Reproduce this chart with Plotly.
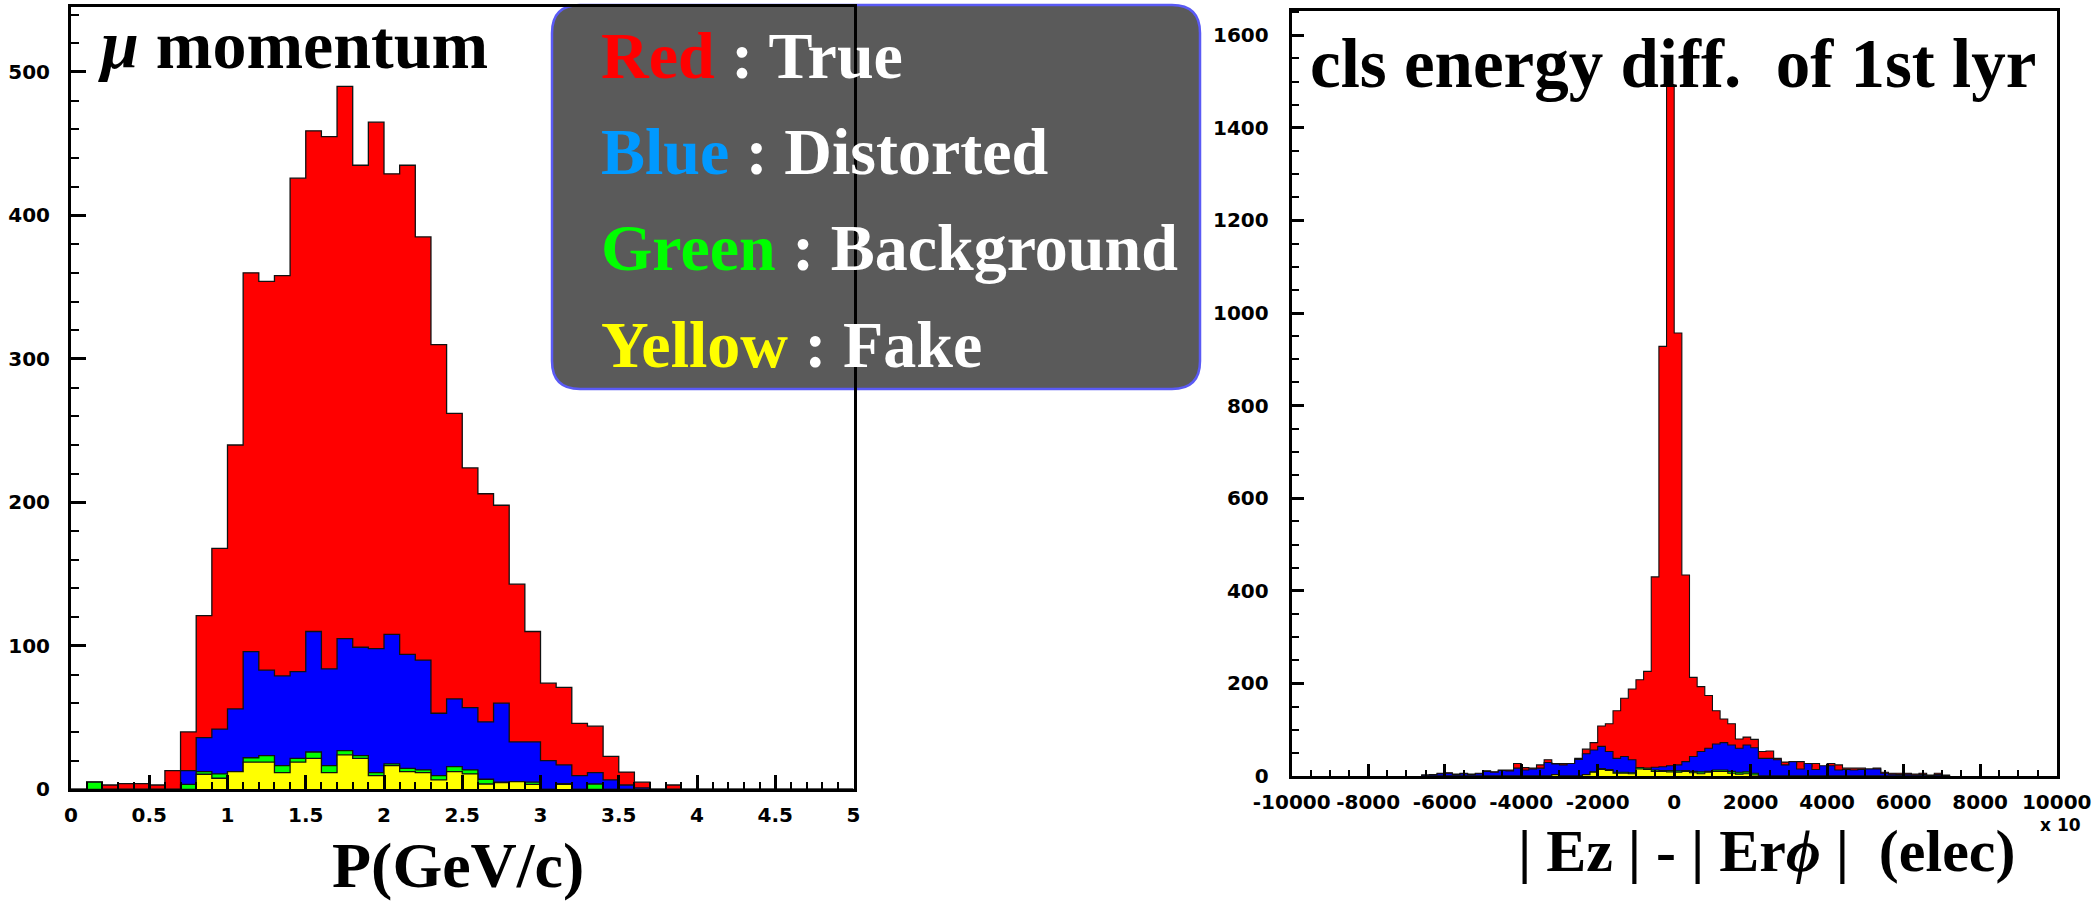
import plotly.graph_objects as go

# ---------------- data: left histogram (muon momentum, 50 bins 0..5 GeV/c) ----------------
p_bin_lo = 0.0
p_bin_w = 0.1
# cumulative levels as drawn (overlaid): all / distorted+bg+fake / bg+fake / fake
p_red = [0, 5, 3, 4, 4, 3, 13, 40, 121, 168,
         240, 360, 354, 358, 426, 459, 455, 490, 435, 465,
         429, 435, 385, 310, 262, 224, 206, 198, 143, 110,
         74, 71, 46, 44, 23, 12, 5, 0, 3, 0,
         0, 0, 0, 0, 0, 0, 0, 0, 0, 0]
p_blue = [0, 5, 0, 0, 0, 0, 0, 13, 36, 42,
          56, 96, 83, 79, 82, 110, 84, 105, 99, 98,
          108, 94, 90, 53, 63, 57, 47, 60, 33, 33,
          20, 17, 9.5, 11.6, 6.5, 3, 1, 0, 0, 0,
          0, 0, 0, 0, 0, 0, 0, 0, 0, 0]
p_green = [0, 5, 0, 0, 0, 0, 0, 3.5, 12.3, 10.7,
           12.3, 22, 23.5, 16.5, 21.6, 26, 16.5, 27, 23.5, 11.6,
           17.7, 14.6, 13.5, 9.5, 15.8, 13.5, 7, 5, 5, 5,
           0, 4, 0, 3.7, 0, 0, 0, 0, 0, 0,
           0, 0, 0, 0, 0, 0, 0, 0, 0, 0]
p_yellow = [0, 0, 0, 0, 0, 0, 0, 0, 10.5, 7.7,
            12.3, 19, 19, 11.6, 19, 21.6, 11.6, 24, 21.6, 9.5,
            16.5, 12.3, 11.6, 6.5, 12.3, 10.7, 3.7, 4.6, 5.3, 3.5,
            0, 3.5, 0, 0, 0, 0, 0, 0, 0, 0,
            0, 0, 0, 0, 0, 0, 0, 0, 0, 0]

# ---------------- data: right histogram (cluster energy diff, bins of 200 from -6600) ----------------
e_bin_lo = -6600
e_bin_w = 200
e_red = [2, 3, 6, 7, 4, 6, 4, 6, 11, 9,
         13, 13, 27, 18, 17, 24, 35, 27, 27, 27,
         38, 58, 72, 108, 113, 141, 168, 188, 208, 226,
         430, 928, 1490, 957, 434, 213, 193, 174, 141, 123,
         113, 80, 84, 79, 53, 54, 38, 30, 24, 31,
         20, 27, 19, 27, 24, 17, 17, 17, 15, 17,
         8, 6, 6, 6, 4, 6, 2, 6, 2]
e_blue = [2, 3, 5, 6, 3, 5, 3, 5, 10, 8,
          12, 11, 17, 13, 15, 17, 29, 26, 24, 27,
          36, 48, 56, 64, 53, 38, 42, 35, 17, 15,
          19, 20, 22, 24, 31, 42, 53, 60, 69, 72,
          67, 60, 67, 61, 38, 38, 35, 24, 31, 15,
          27, 14, 22, 22, 13, 14, 13, 14, 15, 15,
          6, 4, 3, 4, 2, 3, 1, 3, 1]
e_green = [0, 0, 0, 0, 0, 0, 0, 0, 0, 0,
           0, 0, 0, 0, 0, 0, 0, 3, 0, 0,
           0, 3, 9, 16, 14, 8, 8, 7, 18, 17,
           13, 12, 12, 11, 12, 10, 9, 10, 13, 13,
           10, 8, 9, 6, 0, 0, 0, 0, 0, 0,
           0, 0, 0, 0, 0, 0, 0, 0, 0, 0,
           0, 0, 0, 0, 0, 0, 0, 0, 0]
e_yellow = [0, 0, 0, 0, 0, 0, 0, 0, 0, 0,
            0, 0, 0, 0, 0, 0, 0, 3, 0, 0,
            0, 3, 8, 14, 12, 6, 6, 5, 15, 14,
            10, 10, 9, 8, 10, 7, 5, 8, 10, 10,
            6, 4, 5, 2, 0, 0, 0, 0, 0, 0,
            0, 0, 0, 0, 0, 0, 0, 0, 0, 0,
            0, 0, 0, 0, 0, 0, 0, 0, 0]

# ---------------- tick labels ----------------
p_ticks = [0, 0.5, 1, 1.5, 2, 2.5, 3, 3.5, 4, 4.5, 5]
p_ticktext = ["0", "0.5", "1", "1.5", "2", "2.5", "3", "3.5", "4", "4.5", "5"]
n_ticks = [0, 100, 200, 300, 400, 500]
e_ticks = [-10000, -8000, -6000, -4000, -2000, 0, 2000, 4000, 6000, 8000, 10000]
e_ticktext = ["-10000", "-8000", "-6000", "-4000", "-2000", "0", "2000", "4000", "6000", "8000", "10000"]
m_ticks = [0, 200, 400, 600, 800, 1000, 1200, 1400, 1600]

legend_lines = [("Red", "#ff0000", "True"), ("Blue", "#0099ff", "Distorted"),
                ("Green", "#00ff00", "Background"), ("Yellow", "#ffff00", "Fake")]

W, H = 2100, 902
colors = ["#ff0000", "#0000ff", "#00ff00", "#ffff00"]


def step_xy(lo, w, vals):
    edges = [lo + w * i for i in range(len(vals) + 1)]
    xs = [edges[0], edges[0]] + edges[1:-1] + [edges[-1], edges[-1]]
    ys = [0] + list(vals) + [vals[-1], 0]
    return xs, ys


fig = go.Figure()
for vals, col in zip([p_red, p_blue, p_green, p_yellow], colors):
    xs, ys = step_xy(p_bin_lo, p_bin_w, vals)
    fig.add_trace(go.Scatter(x=xs, y=ys, mode="lines", line=dict(shape="hv", color="#111111", width=1.3),
                             fill="tozeroy", fillcolor=col, xaxis="x", yaxis="y", showlegend=False,
                             hoverinfo="skip"))
for vals, col in zip([e_red, e_blue, e_green, e_yellow], colors):
    xs, ys = step_xy(e_bin_lo, e_bin_w, vals)
    fig.add_trace(go.Scatter(x=xs, y=ys, mode="lines", line=dict(shape="hv", color="#111111", width=1.1),
                             fill="tozeroy", fillcolor=col, xaxis="x2", yaxis="y2", showlegend=False,
                             hoverinfo="skip"))


def px(x):
    return x / W


def py(y):
    return 1 - y / H


tickfont = dict(family="DejaVu Sans", size=20, color="black", weight="bold")
axis_common = dict(showline=True, linecolor="black", linewidth=3, mirror=True, ticks="inside",
                   tickcolor="black", tickwidth=2.5, showgrid=False, zeroline=False,
                   tickfont=tickfont, tickmode="array", automargin=False)

fig.update_layout(
    template="none",
    width=W, height=H, autosize=False,
    margin=dict(l=0, r=0, t=0, b=0, pad=0),
    paper_bgcolor="white", plot_bgcolor="rgba(0,0,0,0)",
    xaxis=dict(domain=[px(71), px(853.5)], range=[0, 5], anchor="y",
               tickvals=p_ticks, ticktext=p_ticktext, ticklen=14, ticklabelstandoff=6,
               minor=dict(tickmode="linear", tick0=0, dtick=0.1, ticklen=7, tickwidth=2,
                          tickcolor="black", ticks="inside", showgrid=False),
               **axis_common),
    yaxis=dict(domain=[py(789.3), py(6.7)], range=[0, 545.5], anchor="x",
               tickvals=n_ticks, ticktext=[str(v) for v in n_ticks], ticklen=15, ticklabelstandoff=14,
               minor=dict(tickmode="linear", tick0=0, dtick=20, ticklen=8, tickwidth=2,
                          tickcolor="black", ticks="inside", showgrid=False),
               **axis_common),
    xaxis2=dict(domain=[px(1291.7), px(2056.7)], range=[-10000, 10000], anchor="y2",
                tickvals=e_ticks, ticktext=e_ticktext, ticklen=12, ticklabelstandoff=6,
                minor=dict(tickmode="linear", tick0=0, dtick=500, ticklen=6, tickwidth=2,
                           tickcolor="black", ticks="inside", showgrid=False),
                **axis_common),
    yaxis2=dict(domain=[py(776), py(10.7)], range=[0, 1653], anchor="x2",
                tickvals=m_ticks, ticktext=[str(v) for v in m_ticks], ticklen=12, ticklabelstandoff=16,
                minor=dict(tickmode="linear", tick0=0, dtick=50, ticklen=7, tickwidth=2,
                           tickcolor="black", ticks="inside", showgrid=False),
                **axis_common),
)

# rounded legend box
x0, x1, y0, y1, r = 552, 1200, 5, 389, 28
rx, ry = r / W, r / H
X0, X1, Y0, Y1 = px(x0), px(x1), py(y0), py(y1)
path = (f"M {X0+rx},{Y0} L {X1-rx},{Y0} Q {X1},{Y0} {X1},{Y0-ry} L {X1},{Y1+ry} "
        f"Q {X1},{Y1} {X1-rx},{Y1} L {X0+rx},{Y1} Q {X0},{Y1} {X0},{Y1+ry} "
        f"L {X0},{Y0-ry} Q {X0},{Y0} {X0+rx},{Y0} Z")
fig.add_shape(type="path", path=path, xref="paper", yref="paper", layer="below",
              fillcolor="#5a5a5a", line=dict(color="#5a5af5", width=2.5))

serif = "Liberation Serif"
ann = []
baselines = [77, 173, 269, 366]
for (word, col, desc), b in zip(legend_lines, baselines):
    ann.append(dict(x=px(599), y=py(b - 22), xref="paper", yref="paper", xanchor="left", yanchor="middle",
                    showarrow=False, font=dict(family=serif, size=66, color="white"),
                    text=f"<b><span style='color:{col}'>{word}</span> : {desc}</b>"))
ann.append(dict(x=px(96), y=py(68 - 23), xref="paper", yref="paper", xanchor="left", yanchor="middle",
                showarrow=False, font=dict(family=serif, size=68, color="black"),
                text="<b><i>μ</i> momentum</b>"))
ann.append(dict(x=px(1308), y=py(87 - 23), xref="paper", yref="paper", xanchor="left", yanchor="middle",
                showarrow=False, font=dict(family=serif, size=69, color="black"),
                text="<b>cls energy diff.&nbsp;&nbsp;of 1st lyr</b>"))
ann.append(dict(x=px(458), y=py(865), xref="paper", yref="paper", xanchor="center", yanchor="middle",
                showarrow=False, font=dict(family=serif, size=64, color="black"),
                text="<b>P(GeV/c)</b>"))
ann.append(dict(x=px(1766), y=py(851), xref="paper", yref="paper", xanchor="center", yanchor="middle",
                showarrow=False, font=dict(family=serif, size=60, color="black"),
                text="<b>| Ez | - | Er<i>ϕ</i> |&nbsp;&nbsp;(elec)</b>"))
ann.append(dict(x=px(2060), y=py(825), xref="paper", yref="paper", xanchor="center", yanchor="middle",
                showarrow=False, font=dict(family="DejaVu Sans", size=17, color="black", weight="bold"),
                text="x 10"))
fig.update_layout(annotations=ann)

fig.write_html("out.html")
